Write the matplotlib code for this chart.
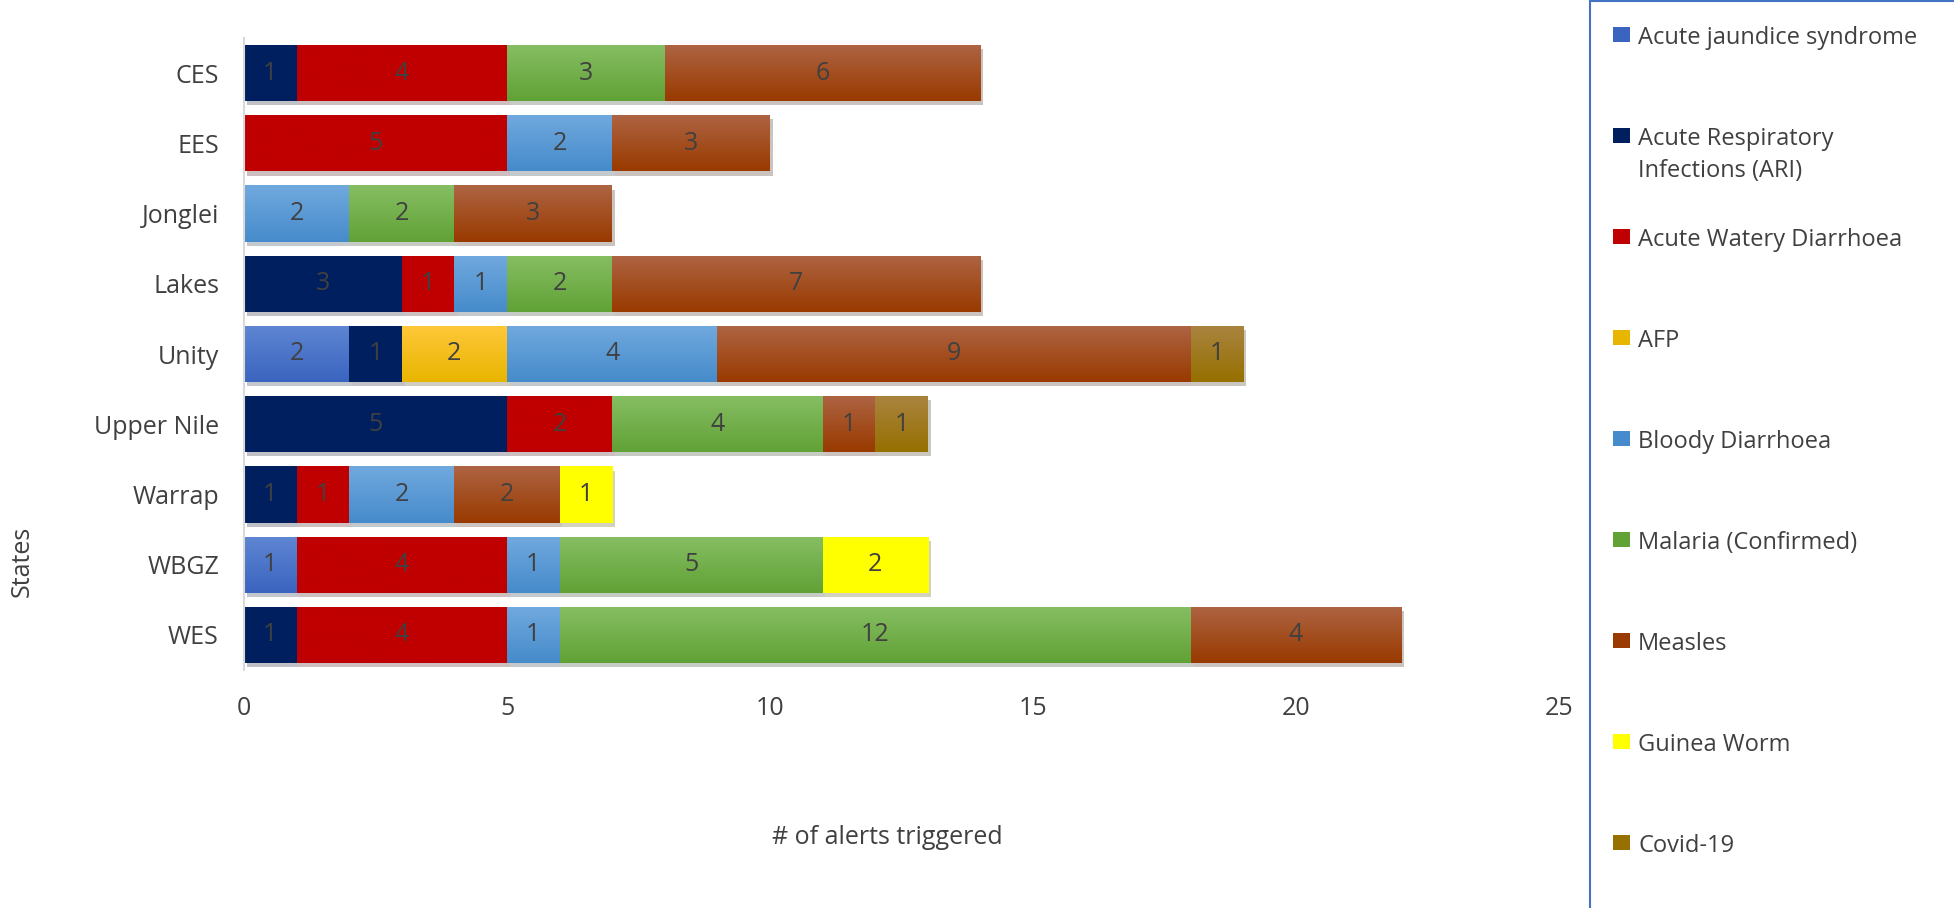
import numpy as np
import matplotlib
matplotlib.use("Agg")
import matplotlib.pyplot as plt
import matplotlib.patheffects as pe
from matplotlib.colors import LinearSegmentedColormap
from matplotlib.patches import Rectangle

plt.rcParams['font.family'] = ['Open Sans', 'DejaVu Sans']

states = ['CES', 'EES', 'Jonglei', 'Lakes', 'Unity', 'Upper Nile', 'Warrap', 'WBGZ', 'WES']
series = ['Acute jaundice syndrome', 'Acute Respiratory\nInfections (ARI)',
          'Acute Watery Diarrhoea', 'AFP', 'Bloody Diarrhoea', 'Malaria (Confirmed)',
          'Measles', 'Guinea Worm', 'Covid-19']

ajs     = [0, 0, 0, 0, 2, 0, 0, 1, 0]
ari     = [1, 0, 0, 3, 1, 5, 1, 0, 1]
awd     = [4, 5, 0, 1, 0, 2, 1, 4, 4]
afp     = [0, 0, 0, 0, 2, 0, 0, 0, 0]
bloody  = [0, 2, 2, 1, 4, 0, 2, 1, 1]
malaria = [3, 0, 2, 2, 0, 4, 0, 5, 12]
measles = [6, 3, 3, 7, 9, 1, 2, 0, 4]
guinea  = [0, 0, 0, 0, 0, 0, 1, 2, 0]
covid   = [0, 0, 0, 0, 1, 1, 0, 0, 0]
values = [ajs, ari, awd, afp, bloody, malaria, measles, guinea, covid]

# (top, bottom) of the vertical gradient for each series
colors = [('#5F86D3', '#3A64BF'), ('#001F5F', '#001F5F'), ('#C00000', '#C00000'),
          ('#FFC83A', '#E8B500'), ('#70A9DE', '#468BCB'), ('#86BE63', '#61A236'),
          ('#AE6443', '#993A00'), ('#FFFF00', '#FFFF00'), ('#AA8440', '#967000')]

W, H = 1954, 908
fig = plt.figure(figsize=(W / 100, H / 100), dpi=100)
ax = fig.add_axes([244 / W, 1 - 670 / H, (1559 - 244) / W, (670 - 38) / H])

y = np.arange(len(states))
left = np.zeros(len(states))
grad = np.linspace(0, 1, 64).reshape(-1, 1)
shadow = [pe.SimplePatchShadow(offset=(2, -3), alpha=0.25), pe.Normal()]
for vals, (c1, c2) in zip(values, colors):
    vals = np.array(vals, dtype=float)
    bars = ax.barh(y, vals, left=left, height=0.8, color=c2, linewidth=0,
                   path_effects=shadow, zorder=2)
    cmap = LinearSegmentedColormap.from_list('g', [c1, c2])
    for p, v in zip(bars.patches, vals):
        if v == 0:
            continue
        x0, y0 = p.get_x(), p.get_y()
        im = ax.imshow(grad, cmap=cmap, aspect='auto', origin='upper',
                       extent=(x0, x0 + p.get_width(), y0 + p.get_height(), y0),
                       zorder=2.5, interpolation='bilinear')
        im.set_clip_path(p)
    labels = [str(int(v)) if v > 0 else '' for v in vals]
    ax.bar_label(bars, labels=labels, label_type='center', color='#404040',
                 fontsize=18, zorder=5)
    left += vals

ax.set_xlim(0, 25)
ax.set_ylim(len(states) - 0.5, -0.5)
ax.set_yticks(y)
ax.set_yticklabels(states)
ax.set_xticks([0, 5, 10, 15, 20, 25])
ax.tick_params(axis='both', length=0, labelsize=18, colors='#404040')
ax.tick_params(axis='x', pad=19)
ax.tick_params(axis='y', pad=18)
for s in ['top', 'right', 'bottom']:
    ax.spines[s].set_visible(False)
ax.spines['left'].set_color('#D9D9D9')
ax.spines['left'].set_linewidth(1.5)

fig.text(887 / W, 1 - 837 / H, '# of alerts triggered', ha='center', va='center',
         fontsize=18, color='#404040')
fig.text(22 / W, 1 - 561 / H, 'States', ha='center', va='center', rotation=90,
         fontsize=18, color='#404040')

# legend box with blue border
fig.add_artist(Rectangle((1590 / W, -0.05), 0.3, 1.05 - 1 / H, transform=fig.transFigure,
                         fill=False, edgecolor='#4472C4', linewidth=1.5))
for i, (name, (c1, c2)) in enumerate(zip(series, colors)):
    yc = 35 + i * 101
    fig.add_artist(Rectangle((1613 / W, 1 - (yc + 7) / H), 17 / W, 15 / H,
                             transform=fig.transFigure, facecolor=c2, edgecolor='none'))
    fig.text(1638 / W, 1 - (yc - 9) / H, name, ha='left', va='top',
             fontsize=17, color='#404040', linespacing=1.45)

fig.savefig('out.png', dpi=100)
